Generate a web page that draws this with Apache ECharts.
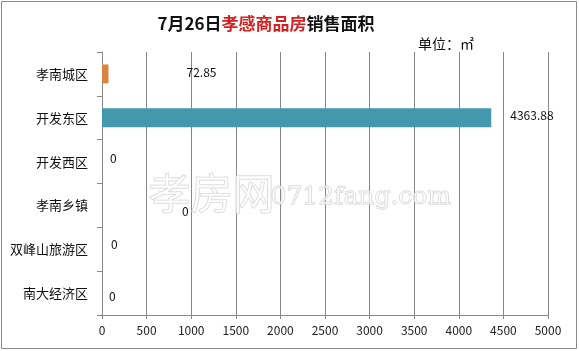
<!DOCTYPE html>
<html><head><meta charset="utf-8">
<script src="https://cdn.jsdelivr.net/npm/echarts@6/dist/echarts.min.js"></script>
<style>html,body{margin:0;padding:0;background:#fff}#c{width:579px;height:351px}</style>
</head><body><div id="c"></div>
<script>
var categories = ['孝南城区','开发东区','开发西区','孝南乡镇','双峰山旅游区','南大经济区'];
var values = [72.85, 4363.88, 0, 0, 0, 0];
var xTicks = [0,500,1000,1500,2000,2500,3000,3500,4000,4500,5000];
var barColors = ['#D9843F','#4398AE','#4398AE','#4398AE','#4398AE','#4398AE'];
var labelOffsets = [[78,-1],[19,-2],[8,-3],[80,6],[9,-5],[7,3]];

var chart = echarts.init(document.getElementById('c'));
var font = '"Noto Sans CJK SC", "DejaVu Sans", sans-serif';
chart.setOption({
  animation:false,
  textStyle:{fontFamily:font},
  title:{
    text:'{a|7月26日}{b|孝感商品房}{a|销售面积}',
    left:261, top:10, textAlign:'center',
    textStyle:{rich:{
      a:{fontSize:17,fontWeight:'bold',color:'#111',fontFamily:font},
      b:{fontSize:17,fontWeight:'bold',color:'#D42020',fontFamily:font}
    }}
  },
  graphic:[
    {type:'rect',shape:{x:1.5,y:1.5,width:575,height:347},style:{fill:'none',stroke:'#8a8a8a',lineWidth:1},z:-1},
    {type:'text',left:418,top:37,style:{text:'单位：㎡',fontSize:14,fill:'#111',fontFamily:font}},
    {type:'text',left:148,top:172,z:100,style:{text:'孝房网',fontSize:42,fill:'rgba(255,255,255,0.6)',stroke:'#cfcfcf',lineWidth:1,fontFamily:font}},
    {type:'text',left:270,top:184,z:100,style:{text:'0712fang.com',fontSize:25,fontFamily:'"DejaVu Serif", serif',fill:'rgba(255,255,255,0.6)',stroke:'#cfcfcf',lineWidth:1}}
  ],
  grid:{left:102,right:31,top:52,bottom:36,containLabel:false},
  xAxis:{
    type:'value',min:0,max:5000,interval:500,
    axisLine:{show:true,lineStyle:{color:'#888'}},
    axisTick:{show:true,length:4,lineStyle:{color:'#888'}},
    splitLine:{show:true,lineStyle:{color:'#888'}},
    axisLabel:{color:'#222',fontSize:12,margin:9,
      formatter:function(v){return xTicks.indexOf(v)>=0?String(v):'';}}
  },
  yAxis:{
    type:'category',data:categories,inverse:true,
    axisLine:{show:true,lineStyle:{color:'#888'}},
    axisTick:{show:true,length:5,lineStyle:{color:'#888'}},
    axisLabel:{color:'#111',fontSize:13,margin:14}
  },
  series:[{
    type:'bar',barWidth:'43%',
    data:values.map(function(v,i){
      return {value:v,itemStyle:{color:barColors[i]},
        label:{show:true,position:'right',distance:0,offset:labelOffsets[i],color:'#111',fontSize:12}};
    })
  }]
});
</script></body></html>
